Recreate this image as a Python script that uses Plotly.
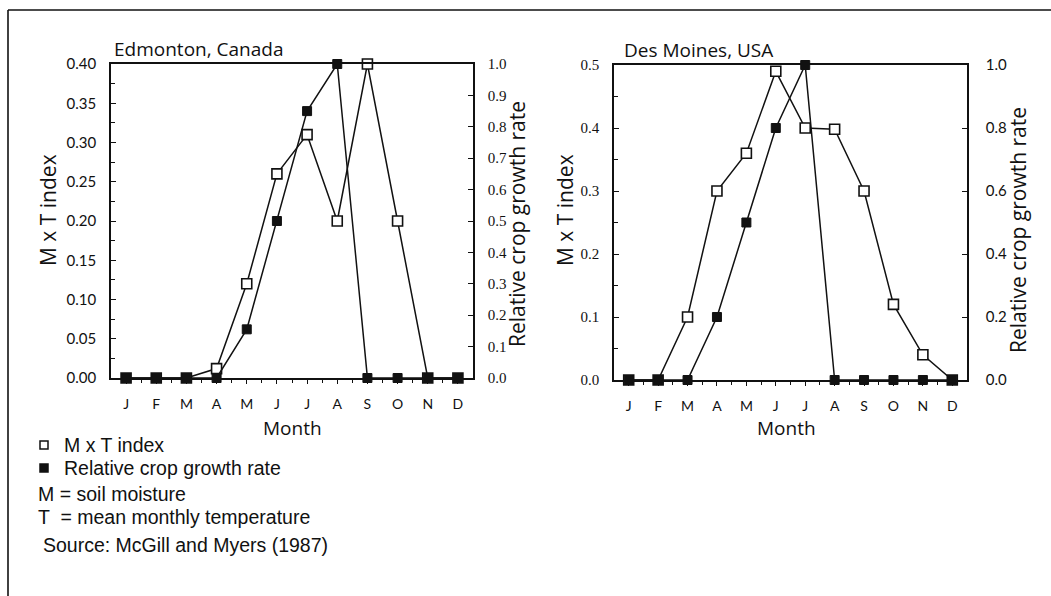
import plotly.graph_objects as go

# Months and monthly values for the two stations
months = ["J", "F", "M", "A", "M", "J", "J", "A", "S", "O", "N", "D"]
month_num = list(range(1, 13))

edm_mxt = [0.0, 0.0, 0.0, 0.012, 0.12, 0.26, 0.31, 0.20, 0.40, 0.20, 0.0, 0.0]
edm_crop = [0.0, 0.0, 0.0, 0.0, 0.155, 0.50, 0.85, 1.0, 0.0, 0.0, 0.0, 0.0]

dsm_mxt = [0.0, 0.0, 0.10, 0.30, 0.36, 0.49, 0.40, 0.398, 0.30, 0.12, 0.04, 0.0]
dsm_crop = [0.0, 0.0, 0.0, 0.20, 0.50, 0.80, 1.0, 0.0, 0.0, 0.0, 0.0, 0.0]

W, H = 1051, 596
SANS = "'Open Sans', Lato, sans-serif"
KEY_SANS = "'Liberation Sans', Arial, sans-serif"
TICK_SANS = "Lato, 'Open Sans', sans-serif"
SERIF = "'Liberation Serif', 'DejaVu Serif', serif"
INK = "#111111"


def px(x):
    return x / W


def py(y):
    return 1 - y / H


hollow = dict(symbol="square", size=10, color="white", line=dict(color=INK, width=1.6))
solid = dict(symbol="square", size=9, color=INK, line=dict(color=INK, width=1))
line_style = dict(color=INK, width=1.5)

fig = go.Figure()

# Edmonton
fig.add_trace(go.Scatter(x=month_num, y=edm_mxt, mode="lines+markers", line=line_style,
                         marker=hollow, xaxis="x", yaxis="y", cliponaxis=False))
fig.add_trace(go.Scatter(x=month_num, y=edm_crop, mode="lines+markers", line=line_style,
                         marker=solid, xaxis="x", yaxis="y2", cliponaxis=False))
# Des Moines
fig.add_trace(go.Scatter(x=month_num, y=dsm_mxt, mode="lines+markers", line=line_style,
                         marker=hollow, xaxis="x2", yaxis="y3", cliponaxis=False))
fig.add_trace(go.Scatter(x=month_num, y=dsm_crop, mode="lines+markers", line=line_style,
                         marker=solid, xaxis="x2", yaxis="y4", cliponaxis=False))

# Plot boxes in pixels
L1, R1, T1, B1 = 111, 473, 64, 378
L2, R2, T2, B2 = 614, 967, 65, 380


def xaxis_cfg(l, r, anchor):
    return dict(domain=[px(l), px(r)], range=[0.5, 12.5], anchor=anchor,
                tickmode="array", tickvals=month_num, ticktext=months,
                showline=True, linecolor=INK, linewidth=1.6, mirror=True,
                ticks="outside", ticklen=4, tickwidth=1.2, tickcolor=INK,
                minor=dict(tickvals=[m + 0.5 for m in month_num[:-1]], ticks="outside",
                           ticklen=3, tickwidth=1, tickcolor=INK),
                showgrid=False, zeroline=False, ticklabelstandoff=8, automargin=False,
                tickfont=dict(family=TICK_SANS, size=14, color=INK), fixedrange=True)


def yaxis_cfg(t, b, anchor, rng, dtick, fmt, font, side="left", overlay=None, minor=None,
              standoff=10):
    cfg = dict(domain=[py(b), py(t)], range=rng, anchor=anchor, side=side,
               tick0=0, dtick=dtick, tickformat=fmt,
               showline=True, linecolor=INK, linewidth=1.6,
               ticks="inside", ticklen=5, tickwidth=1.2, tickcolor=INK,
               showgrid=False, zeroline=False, ticklabelstandoff=standoff, automargin=False,
               tickfont=dict(family=font, size=15, color=INK), fixedrange=True)
    if overlay:
        cfg["overlaying"] = overlay
    if minor:
        cfg["minor"] = dict(dtick=minor, ticks="inside", ticklen=4, tickwidth=1, tickcolor=INK)
    return cfg


fig.update_layout(
    width=W, height=H,
    margin=dict(l=0, r=0, t=0, b=0, pad=0, autoexpand=False),
    paper_bgcolor="white", plot_bgcolor="white",
    xaxis=xaxis_cfg(L1, R1, "y"),
    yaxis=yaxis_cfg(T1, B1, "x", [0, 0.40], 0.05, ".2f", TICK_SANS, minor=0.025),
    yaxis2=yaxis_cfg(T1, B1, "x", [0, 1.0], 0.1, ".1f", SERIF, side="right", overlay="y"),
    xaxis2=xaxis_cfg(L2, R2, "y3"),
    yaxis3=yaxis_cfg(T2, B2, "x2", [0, 0.5], 0.1, ".1f", SERIF, minor=0.05),
    yaxis4=yaxis_cfg(T2, B2, "x2", [0, 1.0], 0.2, ".1f", TICK_SANS, side="right",
                     overlay="y3", standoff=14),
    showlegend=False,
)

text_font = dict(family=SANS, size=19, color=INK)
title_font = dict(family=SANS, size=21, color=INK)
key_font = dict(family=KEY_SANS, size=19.5, color=INK)


def note(x, y, text, font=text_font, **kw):
    d = dict(x=px(x), y=py(y), text=text, xref="paper", yref="paper", showarrow=False,
             font=font, yanchor="middle")
    d.update(kw)
    return d


annotations = [
    note(112, 49, "Edmonton, Canada", xanchor="left"),
    note(622, 50, "Des Moines, USA", xanchor="left"),
    note(48, 210, "M x T index", font=title_font, textangle=-90, xanchor="center"),
    note(517, 224, "Relative crop growth rate", font=title_font, textangle=-90, xanchor="center"),
    note(565, 210, "M x T index", font=title_font, textangle=-90, xanchor="center"),
    note(1018, 230, "Relative crop growth rate", font=title_font, textangle=-90, xanchor="center"),
    note((L1 + R1) / 2, 428, "Month", xanchor="center"),
    note((L2 + R2) / 2 - 4, 428, "Month", xanchor="center"),
    # key text
    note(62, 445, "M x T index", font=key_font, xanchor="left"),
    note(62, 468, "Relative crop growth rate", font=key_font, xanchor="left"),
    note(36, 494, "M = soil moisture", font=key_font, xanchor="left"),
    note(36, 517, "T  = mean monthly temperature", font=key_font, xanchor="left"),
    note(41, 545, "Source: McGill and Myers (1987)", font=key_font, xanchor="left"),
]
fig.update_layout(annotations=annotations)

# Key symbols
fig.add_shape(type="rect", xref="paper", yref="paper",
              x0=px(40), x1=px(48), y0=py(449), y1=py(441),
              line=dict(color=INK, width=1.5), fillcolor="white")
fig.add_shape(type="rect", xref="paper", yref="paper",
              x0=px(40), x1=px(48), y0=py(472), y1=py(464),
              line=dict(color=INK, width=1.5), fillcolor=INK)

# Outer frame: top and left rules
fig.add_shape(type="line", xref="paper", yref="paper", x0=px(8), x1=1.0, y0=py(10), y1=py(10),
              line=dict(color=INK, width=1.6))
fig.add_shape(type="line", xref="paper", yref="paper", x0=px(8), x1=px(8), y0=0.0, y1=py(10),
              line=dict(color=INK, width=1.6))

fig.write_html("out.html")
